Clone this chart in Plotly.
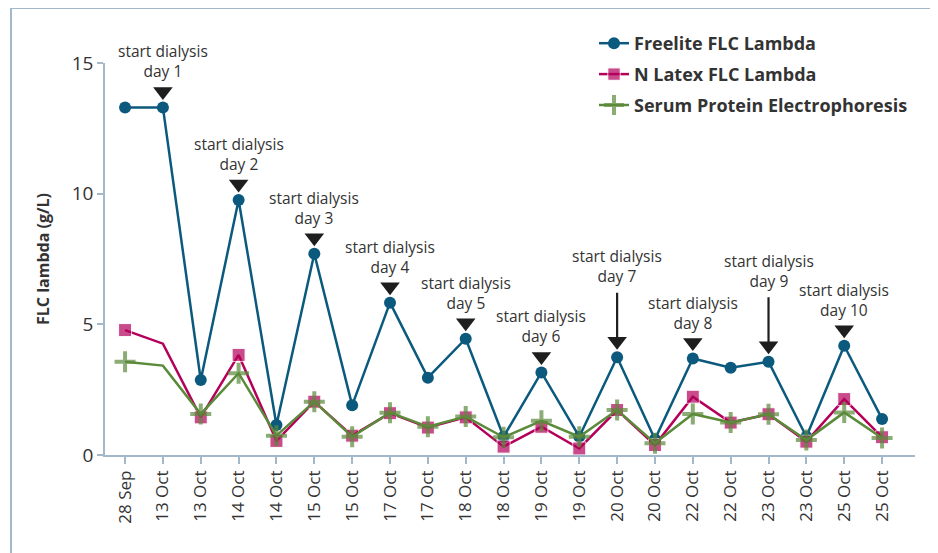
import plotly.graph_objects as go

labels = ["28 Sep", "13 Oct", "13 Oct", "14 Oct", "14 Oct", "15 Oct", "15 Oct", "17 Oct", "17 Oct",
          "18 Oct", "18 Oct", "19 Oct", "19 Oct", "20 Oct", "20 Oct", "22 Oct", "22 Oct", "23 Oct",
          "23 Oct", "25 Oct", "25 Oct"]
freelite = [13.3, 13.3, 2.87, 9.76, 1.15, 7.7, 1.9, 5.83, 2.96, 4.45, 0.7, 3.16, 0.7, 3.74, 0.6,
            3.69, 3.34, 3.57, 0.7, 4.18, 1.38]
nlatex = [4.78, 4.26, 1.44, 3.83, 0.54, 2.04, 0.74, 1.6, 1.05, 1.44, 0.32, 1.08, 0.25, 1.72, 0.38,
          2.23, 1.24, 1.56, 0.51, 2.14, 0.68]
spe = [3.57, 3.42, 1.57, 3.13, 0.74, 2.04, 0.7, 1.62, 1.08, 1.47, 0.68, 1.31, 0.7, 1.72, 0.45,
       1.57, 1.24, 1.56, 0.57, 1.63, 0.65]
dialysis_idx = [1, 3, 5, 7, 9, 11, 13, 15, 17, 19]
dialysis_days = [1, 2, 3, 4, 5, 6, 7, 8, 9, 10]
long_arrow_days = [7, 9]

x = list(range(len(labels)))
C_FL = "#0b5a7e"
C_NL = "#b5005b"
C_SP = "#5b8a3a"
AX = "#a3b8c9"
TXT = "#333333"
FONT = "Open Sans"

# figure is placed at (8,8) in the page by the body margin
W, H = 930, 545
L, R, T, B = 97, 23, 55, 98
PW, PH = W - L - R, H - T - B
PX_PER_UNIT = PH / 15.0
tri_off = 16 / PX_PER_UNIT

nl_sizes = [13 if i != 1 else 0 for i in x]
sp_sizes = [15 if i != 1 else 0 for i in x]

fig = go.Figure()
fig.add_trace(go.Scatter(x=x, y=freelite, mode="lines+markers", name="Freelite FLC Lambda",
                         legendgroup="a",
                         line=dict(color=C_FL, width=2.5),
                         marker=dict(symbol="circle", size=12, color=C_FL), cliponaxis=False))
fig.add_trace(go.Scatter(x=x, y=nlatex, mode="lines+markers", name="N Latex FLC Lambda",
                         legendgroup="b",
                         line=dict(color=C_NL, width=2.5),
                         marker=dict(symbol="square", size=nl_sizes, color=C_NL), cliponaxis=False))
fig.add_trace(go.Scatter(x=x, y=spe, mode="lines+markers", name="Serum Protein Electrophoresis",
                         legendgroup="c",
                         line=dict(color=C_SP, width=2.5),
                         marker=dict(symbol="cross-thin", size=sp_sizes, color=C_SP,
                                     line=dict(color=C_SP, width=4)), cliponaxis=False))

tri_x = [i for i in dialysis_idx]
tri_y = [freelite[i] + tri_off for i in dialysis_idx]
fig.add_trace(go.Scatter(x=tri_x, y=tri_y, mode="markers", showlegend=False, hoverinfo="skip",
                         marker=dict(symbol="triangle-down", size=17, color="#1e1e1e"),
                         cliponaxis=False))

annotations = []
for i, d in zip(dialysis_idx, dialysis_days):
    y0 = freelite[i] + tri_off
    if d in long_arrow_days:
        annotations.append(dict(x=i, y=y0, xref="x", yref="y", text="", showarrow=True,
                                arrowhead=0, arrowwidth=2.2, arrowcolor="#1e1e1e",
                                ax=0, ay=-50, standoff=0))
        shift = 52
    else:
        shift = 7
    annotations.append(dict(x=i, y=y0, xref="x", yref="y",
                            text=f"start dialysis<br>day {d}", showarrow=False,
                            yanchor="bottom", xanchor="center", yshift=shift,
                            font=dict(family=FONT, size=15.5, color=TXT)))

fx = lambda px: (px - 8 - L) / PW
fy = lambda py: (H - B - (py - 8)) / PH

fig.update_layout(
    width=W, height=H,
    margin=dict(l=L, r=R, t=T, b=B),
    paper_bgcolor="white", plot_bgcolor="white",
    font=dict(family=FONT, color=TXT),
    showlegend=True,
    legend=dict(x=fx(594), y=fy(25), xanchor="left", yanchor="top",
                font=dict(family=FONT, size=18, color=TXT, weight="bold"),
                bgcolor="rgba(0,0,0,0)", itemwidth=30, tracegroupgap=4.5,
                traceorder="grouped"),
    annotations=annotations,
    shapes=[
        dict(type="line", xref="paper", yref="paper", x0=fx(11), x1=1.2,
             y0=fy(8), y1=fy(8), line=dict(color=AX, width=2)),
        dict(type="line", xref="paper", yref="paper", x0=fx(11), x1=fx(11),
             y0=fy(8), y1=-0.4, line=dict(color=AX, width=2)),
    ],
)
fig.update_xaxes(range=[-0.53, 20.87], tickmode="array", tickvals=x, ticktext=labels,
                 tickangle=-90, showgrid=False, zeroline=False, showline=True,
                 linecolor=AX, linewidth=1.5, ticks="outside", ticklen=7, tickcolor=AX,
                 tickwidth=1.5, tickfont=dict(family=FONT, size=17, color=TXT))
fig.update_yaxes(range=[0, 15], tickvals=[0, 5, 10, 15], showgrid=False, zeroline=False,
                 showline=True, linecolor=AX, linewidth=1.5, ticks="outside", ticklen=6,
                 tickcolor=AX, tickwidth=1.5, tickfont=dict(family=FONT, size=19, color=TXT),
                 title=dict(text="<b>FLC lambda (g/L)</b>", font=dict(family=FONT, size=16, color=TXT),
                            standoff=18))

fig.write_html("out.html")
